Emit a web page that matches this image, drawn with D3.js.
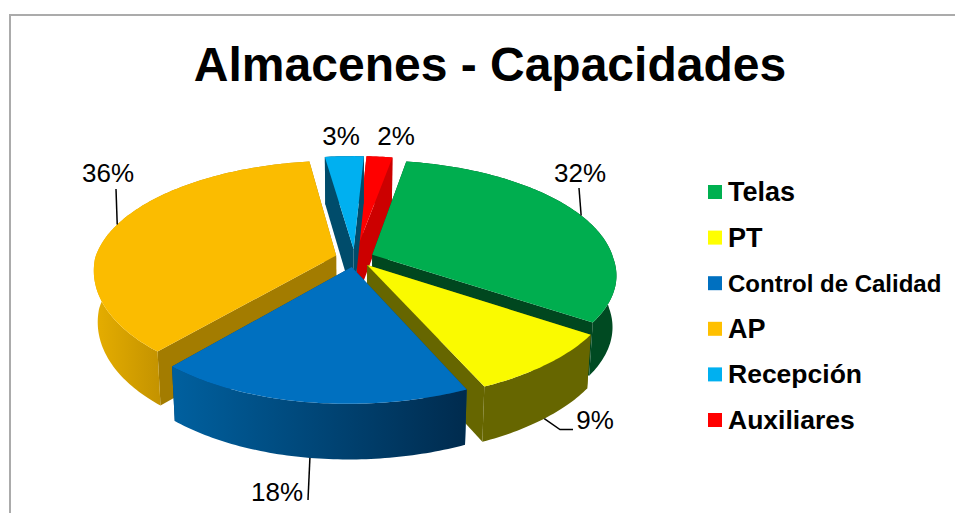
<!DOCTYPE html>
<html><head><meta charset="utf-8">
<script src="https://cdn.jsdelivr.net/npm/d3@7/dist/d3.min.js"></script>
<style>html,body{margin:0;padding:0;background:#fff}svg{display:block}text{font-family:"Liberation Sans",Arial,sans-serif;fill:#000}</style>
</head><body><div id="c"></div>
<script>
const categories = ["Telas","PT","Control de Calidad","AP","Recepción","Auxiliares"];
const values = [32,9,18,36,3,2];
const topColors = ["#00AE4F","#FAFA00","#0070C0","#FBBC00","#00B0F0","#FF0000"];
const legendColors = ["#00B050","#FFFF00","#0070C0","#FFC000","#00B0F0","#FF0000"];
const faceColors = ["#00471F","#666600","#00406F","#A37C00","#004C6B","#CC0000"];
const wallStops = [["#004A22","#004A22"],["#666600","#666600"],["#00609F","#002B4E"],["#E6AE00","#C09000"],["#004C6B","#004C6B"],["#CC0000","#CC0000"]];
const drawOrder = [5,4,3,0,1,2];

const W=955,H=513,cx=354.5,cy=258,rx=241,ry=116,persp=0.15,depth=51,shrink=0.985,explode=0.08,skewX=8,rollY=5.7;
const svg=d3.select("#c").append("svg").attr("width",W).attr("height",H);
const defs=svg.append("defs");
const sx=d3.scaleLinear().domain([0,1]).range([0,rx]);
const sy=d3.scaleLinear().domain([-1,0,1]).range([-ry*0.945,0,ry*0.975]);
const pie=d3.pie().sort(null).startAngle(10*Math.PI/180).endAngle(370*Math.PI/180);
const arcs=pie(values);
const line=d3.line().x(d=>d[0]).y(d=>d[1]);

function project(X,Y){
  const w=1-persp*Y,f=Math.max(Y,0);
  return [cx+sx(X)/w+skewX*f,cy+sy(Y)/w-rollY*X*f,w];
}
function under(p){return [cx+(p[0]-cx)*shrink,p[1]+depth/Math.sqrt(p[2]),p[2]];}
function rim(a,angle){
  const m=(a.startAngle+a.endAngle)/2;
  return project(explode*Math.sin(m)+Math.sin(angle),-explode*Math.cos(m)-Math.cos(angle));
}
function apex(a){
  const m=(a.startAngle+a.endAngle)/2;
  return project(explode*Math.sin(m),-explode*Math.cos(m));
}
function ring(a){
  const n=Math.max(8,Math.ceil((a.endAngle-a.startAngle)*60));
  return d3.range(n+1).map(i=>rim(a,a.startAngle+(a.endAngle-a.startAngle)*i/n));
}
svg.append("path").attr("d","M10,513V15H955").attr("fill","none").attr("stroke","#ABABAB").attr("stroke-width",2);
svg.append("text").attr("x",490).attr("y",81).attr("text-anchor","middle").attr("font-weight","bold").attr("font-size",48).text("Almacenes - Capacidades");

const pieG=svg.append("g");
drawOrder.forEach(i=>{
  const a=arcs[i],r=ring(a),c=apex(a),g=pieG.append("g");
  const gid="wall"+i;
  const gr=defs.append("linearGradient").attr("id",gid);
  gr.append("stop").attr("offset",0).attr("stop-color",wallStops[i][0]);
  gr.append("stop").attr("offset",i===3?0.34:1).attr("stop-color",wallStops[i][1]);
  const s=r[0],e=r[r.length-1];
  [s,e].forEach(p=>g.append("path").attr("d",line([c,p,under(p),under(c)])+"Z").attr("fill",faceColors[i]));
  g.append("path").attr("d",line(r.concat(r.map(under).reverse()))+"Z").attr("fill",`url(#${gid})`);
  g.append("path").attr("d",line([c].concat(r))+"Z").attr("fill",topColors[i]);
});

// data labels with leaders
const labelPos=[[580,182],[595,429],[277,501],[108,182],[341,145],[396,145]];
const leaderEnd=[[579,188],[573,429.5],[308,500],[116,189],null,null];
const leaderBottom=[false,true,true,false];
const total=d3.sum(values);
arcs.forEach((a,i)=>{
  svg.append("text").attr("x",labelPos[i][0]).attr("y",labelPos[i][1]).attr("text-anchor","middle").attr("font-size",26).text(Math.round(a.value/total*100)+"%");
  if(!leaderEnd[i])return;
  const p=rim(a,(a.startAngle+a.endAngle)/2),st=leaderBottom[i]?under(p):p;
  const pts=i===1?[st,[leaderEnd[i][0]-13,leaderEnd[i][1]],leaderEnd[i]]:[st,leaderEnd[i]];
  svg.append("path").attr("d",line(pts)).attr("fill","none").attr("stroke","#000").attr("stroke-width",1.5);
});

// legend
const legendY=d3.scalePoint().domain(categories).range([192,420]);
const legendSize=[27,27,24,27,26.5,26.5];
categories.forEach((c,i)=>{
  svg.append("rect").attr("x",708).attr("y",legendY(c)-7).attr("width",14).attr("height",14).attr("fill",legendColors[i]);
  svg.append("text").attr("x",728).attr("y",legendY(c)+9).attr("font-weight","bold").attr("font-size",legendSize[i]).text(c);
});
</script></body></html>
